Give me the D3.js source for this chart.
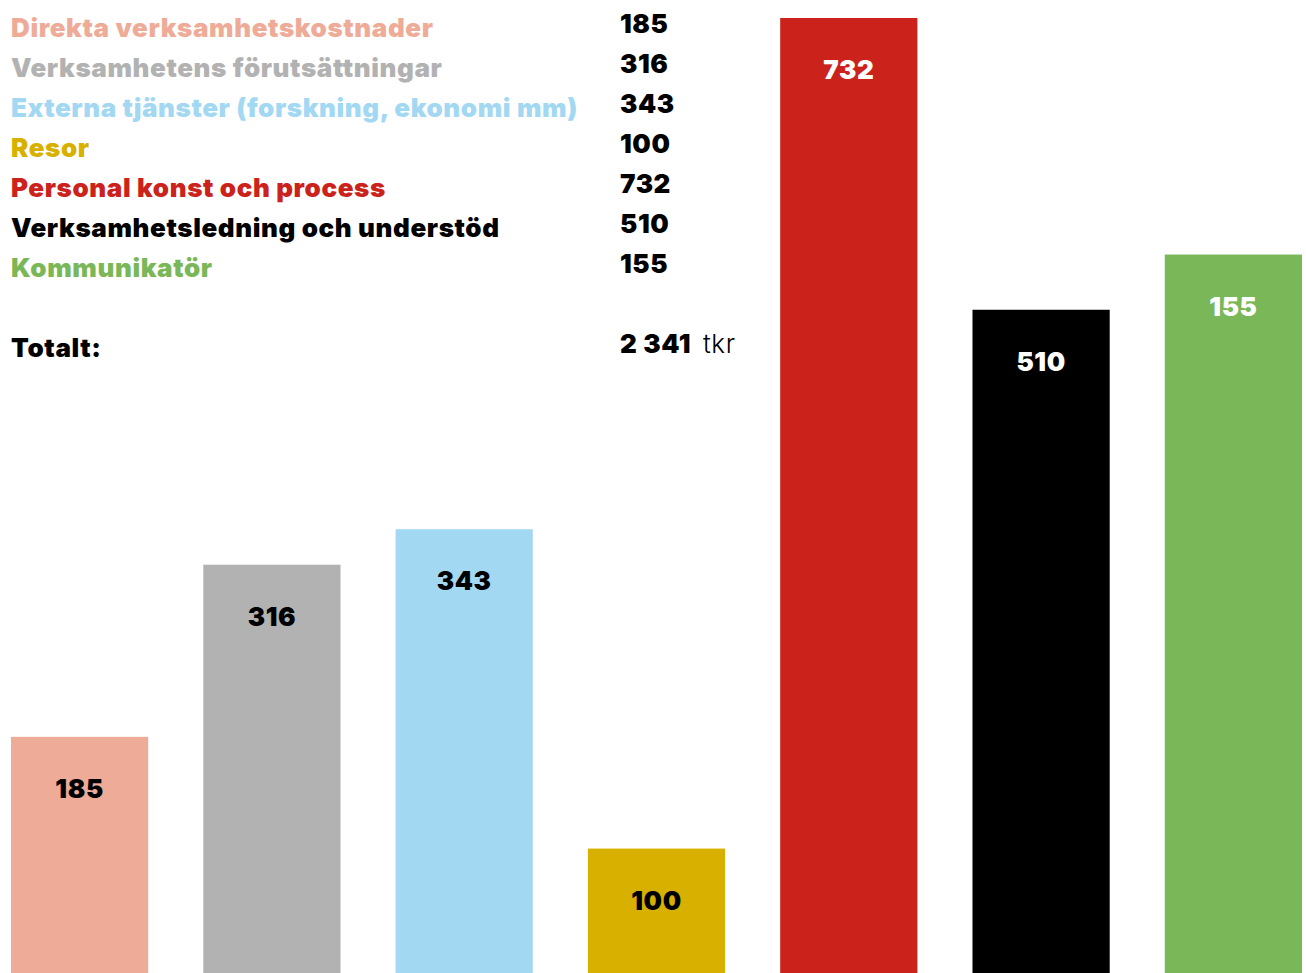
<!DOCTYPE html>
<html>
<head>
<meta charset="utf-8">
<script src="https://cdnjs.cloudflare.com/ajax/libs/d3/7.8.5/d3.min.js"></script>
<style>
  body { margin: 0; background: #fff; }
  svg { display: block; }
  text { font-family: "Inter", "Liberation Sans", sans-serif; font-weight: 900; letter-spacing: 0.6px; }
</style>
</head>
<body>
<div id="graphic"></div>
<script>
// categories and values
var categories = ["Direkta verksamhetskostnader", "Verksamhetens förutsättningar",
    "Externa tjänster (forskning, ekonomi mm)", "Resor", "Personal konst och process",
    "Verksamhetsledning och understöd", "Kommunikatör"];
var values = [185, 316, 343, 100, 732, 510, 155];
// bar heights as drawn in the picture (last bar is drawn much taller than its label)
var barValues = [185, 316, 343, 100, 732, 510, 552];
var colors = ["#eeac98", "#b2b2b2", "#a3d8f3", "#d8b100", "#cc221c", "#000000", "#7ab758"];
var labelColors = ["#000", "#000", "#000", "#000", "#fff", "#fff", "#fff"];

var svgWidth = 1306;
var svgHeight = 973;

var svg = d3.select("#graphic")
    .append("svg")
    .attr("width", svgWidth)
    .attr("height", svgHeight);

var chart = svg.append("g");

// scales
var x = d3.scaleBand()
    .domain(d3.range(categories.length))
    .range([11, 1302])
    .paddingInner(55 / 192)
    .paddingOuter(0);

var y = d3.scaleLinear()
    .domain([0, d3.max(barValues)])
    .range([980, 18]);

// bars
chart.selectAll("rect")
    .data(barValues)
    .enter()
    .append("rect")
    .attr("x", function(d, i) { return x(i); })
    .attr("y", function(d) { return y(d); })
    .attr("width", x.bandwidth())
    .attr("height", function(d) { return y(0) - y(d); })
    .attr("fill", function(d, i) { return colors[i]; });

// value labels inside bars
chart.selectAll(".barLabel")
    .data(values)
    .enter()
    .append("text")
    .attr("class", "barLabel")
    .attr("x", function(d, i) { return x(i) + x.bandwidth() / 2; })
    .attr("y", function(d, i) { return y(barValues[i]) + 61; })
    .text(function(d) { return d; })
    .attr("fill", function(d, i) { return labelColors[i]; })
    .style("font-size", "26px")
    .style("text-anchor", "middle");

// legend list
var legend = svg.append("g");

legend.selectAll(".legendName")
    .data(categories)
    .enter()
    .append("text")
    .attr("class", "legendName")
    .attr("x", 11)
    .attr("y", function(d, i) { return 37 + i * 40; })
    .text(function(d) { return d; })
    .attr("fill", function(d, i) { return colors[i]; })
    .style("font-size", "26px");

legend.selectAll(".legendValue")
    .data(values)
    .enter()
    .append("text")
    .attr("class", "legendValue")
    .attr("x", 620)
    .attr("y", function(d, i) { return 33 + i * 40; })
    .text(function(d) { return d; })
    .attr("fill", "#000")
    .style("font-size", "26px");

// total
var total = d3.sum(values);
var totalText = d3.format(",")(total).replace(/,/g, " ");

legend.append("text")
    .attr("x", 11)
    .attr("y", 357)
    .text("Totalt:")
    .attr("fill", "#000")
    .style("font-size", "26px");

var tot = legend.append("text")
    .attr("x", 620)
    .attr("y", 353)
    .attr("fill", "#000")
    .style("font-size", "26px");
tot.append("tspan").text(totalText);
tot.append("tspan").attr("x", 703).text("tkr").style("font-weight", 300);
</script>
</body>
</html>
